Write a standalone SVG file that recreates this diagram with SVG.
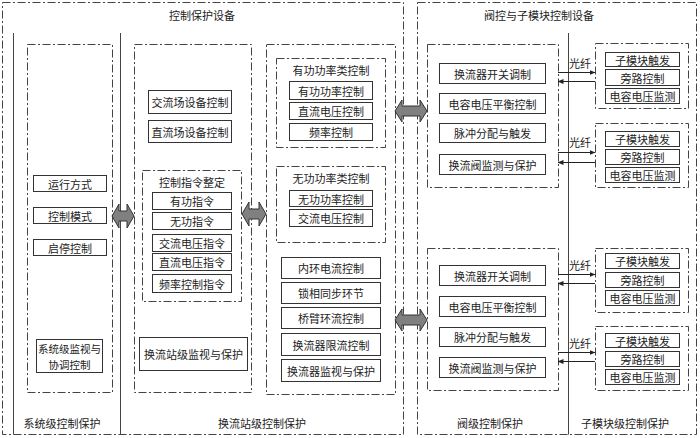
<svg xmlns="http://www.w3.org/2000/svg" width="700" height="438" viewBox="0 0 700 438">
<defs>
<style>
.dd{fill:none;stroke:#444;stroke-width:1;stroke-dasharray:8,2.5,2,2.5}
.sl{stroke:#444;stroke-width:1;fill:none}
.bx{fill:#fff;stroke:#333;stroke-width:1}
.t{font-family:"Noto Sans CJK SC","Noto Sans",sans-serif;font-size:11px;fill:#222;text-anchor:middle;dominant-baseline:central}
.s{font-size:10.5px}
.ar{fill:#808080;stroke:#333;stroke-width:1}
.fb{stroke:#222;stroke-width:1;fill:none;marker-end:url(#ah)}
</style>
<marker id="ah" markerWidth="6" markerHeight="6" refX="5.5" refY="3" orient="auto" markerUnits="userSpaceOnUse">
<path d="M0,0.5 L6,3 L0,5.5 Z" fill="#222"/>
</marker>
</defs>
<rect width="700" height="438" fill="#fff"/>

<g id="frames">
<rect class="dd" x="2.5" y="2.5" width="401" height="432"/>
<rect class="dd" x="417.5" y="2.5" width="279" height="432"/>
<line class="sl" x1="13.5" y1="33" x2="13.5" y2="434.5"/>
<line class="sl" x1="120.5" y1="33" x2="120.5" y2="434.5"/>
<line class="sl" x1="568.5" y1="33" x2="568.5" y2="434.5"/>
<text class="t" x="202" y="15">控制保护设备</text>
<text class="t" x="539" y="15">阀控与子模块控制设备</text>
<text class="t" x="62" y="423">系统级控制保护</text>
<text class="t" x="262" y="423">换流站级控制保护</text>
<text class="t" x="490" y="423">阀级控制保护</text>
<text class="t" x="625" y="423">子模块级控制保护</text>
</g>

<g id="system-level">
<rect class="dd" x="27.5" y="44.5" width="85" height="348"/>
<g id="n-yxfs"><rect class="bx" x="33.5" y="175.5" width="73" height="16"/><text class="t" x="70" y="183.5">运行方式</text></g>
<g id="n-kzms"><rect class="bx" x="33.5" y="207.5" width="73" height="16"/><text class="t" x="70" y="215.5">控制模式</text></g>
<g id="n-qtkz"><rect class="bx" x="33.5" y="239.5" width="73" height="16"/><text class="t" x="70" y="247.5">启停控制</text></g>
<g id="n-xtjjs"><rect class="bx" x="36.5" y="339.5" width="66" height="33"/><text class="t s" x="69.5" y="348">系统级监视与</text><text class="t s" x="69.5" y="364">协调控制</text></g>
</g>

<g id="station-a">
<rect class="dd" x="134.5" y="44.5" width="117" height="348"/>
<g id="n-jlc"><rect class="bx" x="148.5" y="90.5" width="83" height="23"/><text class="t" x="190" y="102">交流场设备控制</text></g>
<g id="n-zlc"><rect class="bx" x="148.5" y="120.5" width="83" height="22"/><text class="t" x="190" y="131.5">直流场设备控制</text></g>
<g id="n-zlzd">
<rect class="dd" x="142.5" y="170.5" width="99" height="131"/>
<text class="t" x="192" y="182">控制指令整定</text>
<rect class="bx" x="152.5" y="192.5" width="79" height="17"/><text class="t" x="192" y="201">有功指令</text>
<rect class="bx" x="152.5" y="212.5" width="79" height="17"/><text class="t" x="192" y="221">无功指令</text>
<rect class="bx" x="152.5" y="234.5" width="79" height="17"/><text class="t" x="192" y="243">交流电压指令</text>
<rect class="bx" x="152.5" y="253.5" width="79" height="17"/><text class="t" x="192" y="262">直流电压指令</text>
<rect class="bx" x="152.5" y="274.5" width="79" height="18"/><text class="t" x="192" y="283.5">频率控制指令</text>
</g>
<g id="n-hlzjs"><rect class="bx" x="139.5" y="337.5" width="108" height="33"/><text class="t" x="193.5" y="354">换流站级监视与保护</text></g>
</g>

<g id="station-b">
<rect class="dd" x="266.5" y="44.5" width="129" height="350"/>
<g id="n-ygl">
<rect class="dd" x="276.5" y="58.5" width="109" height="89"/>
<text class="t" x="331" y="70">有功功率类控制</text>
<rect class="bx" x="289.5" y="81.5" width="83" height="18"/><text class="t" x="331" y="90.5">有功功率控制</text>
<rect class="bx" x="289.5" y="102.5" width="83" height="17"/><text class="t" x="331" y="111">直流电压控制</text>
<rect class="bx" x="289.5" y="123.5" width="83" height="17"/><text class="t" x="331" y="132">频率控制</text>
</g>
<g id="n-wgl">
<rect class="dd" x="276.5" y="166.5" width="109" height="76"/>
<text class="t" x="331" y="177.5">无功功率类控制</text>
<rect class="bx" x="289.5" y="190.5" width="83" height="16"/><text class="t" x="331" y="198.5">无功功率控制</text>
<rect class="bx" x="289.5" y="209.5" width="83" height="17"/><text class="t" x="331" y="218">交流电压控制</text>
</g>
<g id="n-nhdl"><rect class="bx" x="281.5" y="257.5" width="99" height="21"/><text class="t" x="331" y="268">内环电流控制</text></g>
<g id="n-sxtb"><rect class="bx" x="281.5" y="282.5" width="99" height="21"/><text class="t" x="331" y="293">锁相同步环节</text></g>
<g id="n-qbhl"><rect class="bx" x="281.5" y="307.5" width="99" height="21"/><text class="t" x="331" y="318">桥臂环流控制</text></g>
<g id="n-hlqxl"><rect class="bx" x="281.5" y="333.5" width="99" height="22"/><text class="t" x="331" y="344.5">换流器限流控制</text></g>
<g id="n-hlqjs"><rect class="bx" x="281.5" y="359.5" width="99" height="22"/><text class="t" x="331" y="370.5">换流器监视与保护</text></g>
</g>

<g id="valve-1">
<rect class="dd" x="427.5" y="44.5" width="131" height="143"/>
<rect class="bx" x="439.5" y="63.5" width="106" height="20"/><text class="t" x="492.5" y="73.5">换流器开关调制</text>
<rect class="bx" x="439.5" y="93.5" width="106" height="20"/><text class="t" x="492.5" y="103.5">电容电压平衡控制</text>
<rect class="bx" x="439.5" y="123.5" width="106" height="19"/><text class="t" x="492.5" y="133">脉冲分配与触发</text>
<rect class="bx" x="439.5" y="154.5" width="106" height="20"/><text class="t" x="492.5" y="164.5">换流阀监测与保护</text>
</g>
<g id="valve-2">
<rect class="dd" x="427.5" y="248.5" width="131" height="142"/>
<rect class="bx" x="439.5" y="265.5" width="106" height="20"/><text class="t" x="492.5" y="275.5">换流器开关调制</text>
<rect class="bx" x="439.5" y="296.5" width="106" height="20"/><text class="t" x="492.5" y="306.5">电容电压平衡控制</text>
<rect class="bx" x="439.5" y="327.5" width="106" height="19"/><text class="t" x="492.5" y="337">脉冲分配与触发</text>
<rect class="bx" x="439.5" y="357.5" width="106" height="20"/><text class="t" x="492.5" y="367.5">换流阀监测与保护</text>
</g>

<g id="sm-1">
<rect class="dd" x="595.5" y="43.5" width="93" height="65"/>
<rect class="bx" x="605.5" y="52.5" width="74" height="14"/><text class="t" x="642.5" y="59.5">子模块触发</text>
<rect class="bx" x="605.5" y="69.5" width="74" height="16"/><text class="t" x="642.5" y="77.5">旁路控制</text>
<rect class="bx" x="605.5" y="88.5" width="74" height="15"/><text class="t" x="642.5" y="96">电容电压监测</text>
</g>
<g id="sm-2">
<rect class="dd" x="595.5" y="123.5" width="93" height="64"/>
<rect class="bx" x="605.5" y="131.5" width="74" height="15"/><text class="t" x="642.5" y="139">子模块触发</text>
<rect class="bx" x="605.5" y="149.5" width="74" height="15"/><text class="t" x="642.5" y="157">旁路控制</text>
<rect class="bx" x="605.5" y="167.5" width="74" height="15"/><text class="t" x="642.5" y="175">电容电压监测</text>
</g>
<g id="sm-3">
<rect class="dd" x="595.5" y="248.5" width="93" height="64"/>
<rect class="bx" x="605.5" y="253.5" width="74" height="15"/><text class="t" x="642.5" y="261">子模块触发</text>
<rect class="bx" x="605.5" y="272.5" width="74" height="15"/><text class="t" x="642.5" y="280">旁路控制</text>
<rect class="bx" x="605.5" y="290.5" width="74" height="15"/><text class="t" x="642.5" y="298">电容电压监测</text>
</g>
<g id="sm-4">
<rect class="dd" x="595.5" y="326.5" width="93" height="64"/>
<rect class="bx" x="605.5" y="333.5" width="74" height="14"/><text class="t" x="642.5" y="340.5">子模块触发</text>
<rect class="bx" x="605.5" y="351.5" width="74" height="15"/><text class="t" x="642.5" y="359">旁路控制</text>
<rect class="bx" x="605.5" y="369.5" width="74" height="15"/><text class="t" x="642.5" y="377">电容电压监测</text>
</g>

<g id="connectors">
<path class="ar" d="M112,216 L119,204 L119,211 L127,211 L127,204 L134,216 L127,228 L127,221 L119,221 L119,228 Z"/>
<path class="ar" d="M242,214 L249,202 L249,209 L259,209 L259,202 L266,214 L259,226 L259,219 L249,219 L249,226 Z"/>
<path class="ar" d="M395,111 L402,100 L402,106 L420,106 L420,100 L427,111 L420,122 L420,116 L402,116 L402,122 Z"/>
<path class="ar" d="M395,320 L402,309 L402,315 L420,315 L420,309 L427,320 L420,331 L420,325 L402,325 L402,331 Z"/>
<text class="t" x="580" y="63">光纤</text>
<line class="fb" x1="558" y1="72.5" x2="595" y2="72.5"/>
<line class="fb" x1="595" y1="81.5" x2="558" y2="81.5"/>
<text class="t" x="580" y="142">光纤</text>
<line class="fb" x1="558" y1="152.5" x2="595" y2="152.5"/>
<line class="fb" x1="595" y1="162.5" x2="558" y2="162.5"/>
<text class="t" x="580" y="265">光纤</text>
<line class="fb" x1="558" y1="274.5" x2="595" y2="274.5"/>
<line class="fb" x1="595" y1="283.5" x2="558" y2="283.5"/>
<text class="t" x="580" y="343">光纤</text>
<line class="fb" x1="558" y1="352.5" x2="595" y2="352.5"/>
<line class="fb" x1="595" y1="361.5" x2="558" y2="361.5"/>
</g>
</svg>
